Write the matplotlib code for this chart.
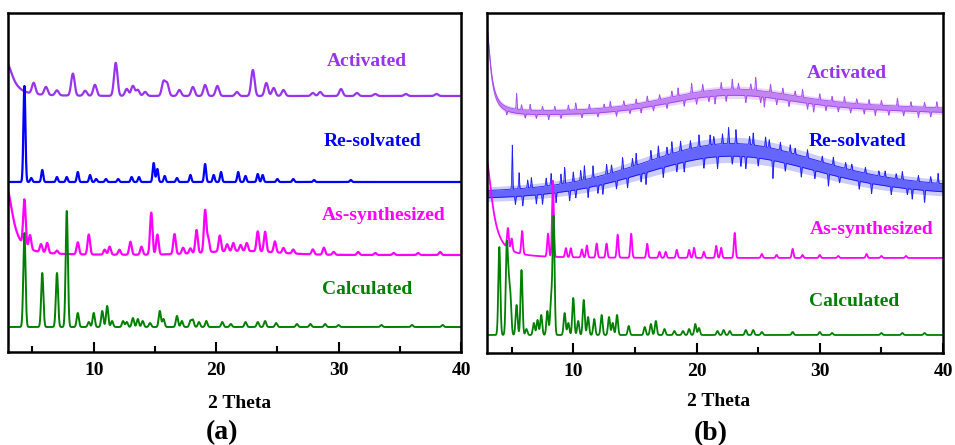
import numpy as np
import matplotlib.pyplot as plt

plt.rcParams['font.family'] = ['Liberation Serif', 'DejaVu Serif']
plt.rcParams['font.weight'] = 'bold'

two_theta = np.arange(3.0, 40.0001, 0.01)

PURPLE = '#9933ee'
BLUE = '#0000ff'
MAGENTA = '#ff00ff'
GREEN = '#008000'

# ---------------- panel (a) ----------------
act_a_pos = [5.1, 6.1, 7.0, 8.3, 9.3, 10.1, 11.8, 12.7, 13.2, 13.6, 14.2, 15.7, 16.0, 17.0, 18.1,
             19.1, 20.1, 21.7, 23.0, 24.1, 24.7, 25.5, 27.9, 28.5, 30.2, 31.5, 33.0, 35.5, 38.0]
act_a_int = [11, 8, 5, 22, 5, 11, 33, 7, 10, 6, 4, 14, 12, 6, 9,
             11, 10, 4, 26, 13, 8, 6, 3, 4, 7, 3, 2, 2, 2]

res_a_pos = [4.34, 4.9, 5.8, 7.0, 7.8, 8.7, 9.7, 10.2, 11.0, 12.0, 13.1, 13.7, 14.9, 15.2, 15.8,
             16.8, 17.9, 19.1, 19.8, 20.4, 21.8, 22.4, 23.4, 23.8, 25.0, 26.3, 28.0, 31.0]
res_a_int = [96, 4, 12, 5, 5, 10, 7, 3, 3, 3, 5, 5, 19, 13, 6,
             4, 7, 18, 7, 10, 10, 6, 8, 7, 3, 3, 2, 2]

as_a_pos = [4.34, 4.8, 5.7, 6.2, 7.0, 8.7, 9.6, 10.9, 11.3, 12.1, 13.0, 13.9, 14.7, 15.2, 16.6,
            17.3, 17.9, 18.4, 19.1, 19.35, 20.3, 20.9, 21.4, 22.0, 22.5, 23.4, 24.0, 24.8, 25.5,
            26.3, 27.9, 28.8, 29.6, 31.6, 33.0, 34.5, 36.5, 38.3]
as_a_int = [46, 14, 8, 10, 3, 12, 20, 5, 8, 5, 13, 8, 42, 20, 20,
            6, 5, 23, 42, 14, 16, 7, 8, 6, 8, 20, 20, 11, 5,
            4, 5, 7, 3, 3, 2, 2, 2, 3]

calc_a_pos = [4.34, 5.8, 7.0, 7.8, 8.7, 9.6, 10.0, 10.7, 11.1, 11.5, 12.4, 12.7, 13.2, 13.6, 14.0,
              14.6, 15.4, 15.7, 16.8, 17.2, 17.9, 18.1, 18.6, 19.2, 20.5, 21.2, 22.4, 23.4, 24.0,
              24.9, 26.6, 27.7, 28.9, 30.0, 33.5, 36.0, 38.5]
calc_a_int = [94, 54, 54, 116, 14, 5, 14, 16, 21, 6, 6, 5, 9, 8, 6,
              4, 16, 8, 11, 6, 6, 7, 5, 6, 5, 3, 5, 5, 6,
              4, 3, 3, 3, 2, 2, 2, 2]

# ---------------- panel (b) ----------------
act_b_spike_pos = [4.6, 5.4, 5.8, 6.1, 6.5, 7.0, 7.5, 8.0, 8.5, 9.0, 9.6, 10.2, 10.7, 11.3, 12.0,
                   12.5, 13.0, 13.5, 14.1, 14.6, 15.1, 15.5, 16.0, 16.5, 17.0, 17.6, 18.0, 18.5,
                   19.0, 19.6, 20.0, 20.5, 21.0, 21.5, 22.0, 22.4, 22.9, 23.4, 24.0, 24.4, 24.8,
                   25.2, 25.5, 26.0, 26.5, 27.0, 27.5, 28.0, 28.6, 29.0, 29.5, 30.0, 30.5, 31.0,
                   31.5, 32.0, 32.5, 33.0, 33.6, 34.0, 34.5, 35.0, 35.6, 36.3, 36.8, 37.4, 38.0,
                   38.5, 39.0, 39.5]
act_b_spike_int = [-4, 16, 5, -4, 6, -4, 4, -5, 4, -4, 5, 7, -4, 5, -4,
                   4, 6, -5, 5, -4, 5, -5, 6, -5, 5, -5, 6, 8,
                   -6, 10, -6, 7, -5, -8, 7, -6, 10, 6, -7, 6, 13,
                   -6, -10, 8, -6, 6, -6, 5, 8, -6, -8, 6, -5, 5,
                   -5, 6, -5, 5, -5, 5, -6, 5, -5, 8, -5, 5, -6,
                   5, -5, 6]
act_b_hump_pos = [22.5, 29.0]
act_b_hump_int = [16, 7]
act_b_hump_sig = [4.8, 10.0]

res_b_spike_pos = [5.05, 5.3, 5.6, 5.9, 6.3, 6.6, 7.0, 7.5, 7.8, 8.2, 8.6, 9.0, 9.3, 9.7, 10.0,
                   10.2, 10.6, 10.9, 11.2, 11.6, 12.0, 12.4, 12.7, 13.1, 13.5, 14.0, 14.4, 14.8,
                   15.1, 15.5, 15.9, 16.3, 16.9, 17.3, 17.6, 18.0, 18.4, 18.7, 19.0, 19.5, 20.2,
                   20.6, 21.1, 21.4, 21.7, 22.1, 22.6, 22.9, 23.2, 23.6, 24.0, 24.3, 24.6, 25.0,
                   25.6, 25.9, 26.2, 26.8, 27.2, 27.6, 28.0, 28.5, 29.0, 29.6, 30.2, 30.7, 31.1,
                   31.6, 32.1, 32.6, 33.2, 33.7, 34.2, 34.8, 35.3, 35.8, 36.2, 36.7, 37.1, 37.5,
                   38.0, 38.5, 39.0, 39.6]
res_b_spike_int = [44, -8, 16, -10, 8, 10, -9, -10, 8, 12, -10, 10, 16, -10, 10,
                   -8, 10, 14, -10, 12, -8, -10, 10, 8, -8, 12, -10, 8,
                   12, -8, -12, 10, 12, -10, 8, 12, -8, 10, -10, 8, 12,
                   -10, 10, 8, -12, 10, 16, -8, 14, -10, -12, 8, 12, -8,
                   10, 8, -18, 8, -8, 8, 6, -10, 8, -8, 6, -12, 8,
                   -6, 6, 6, -8, 6, -10, 5, 6, -8, 5, 8, -6, -10,
                   6, -12, 6, 10]
res_b_hump_pos = [22.5, 28.0]
res_b_hump_int = [36, 12]
res_b_hump_sig = [6.5, 14.0]

as_b_pos = [4.7, 5.0, 5.85, 7.95, 8.35, 9.4, 9.8, 10.7, 11.1, 11.9, 12.7, 13.6, 14.7, 16.0, 17.0,
            17.5, 18.4, 19.4, 19.8, 20.6, 21.6, 22.0, 23.1, 25.3, 26.5, 27.8, 28.6, 30.0, 31.5,
            33.8, 35.0, 37.0]
as_b_int = [20, 12, 23, 23, 76, 9, 9, 8, 12, 14, 14, 23, 24, 14, 6,
            6, 8, 8, 10, 6, 12, 10, 25, 4, 3, 9, 3, 3, 2,
            4, 2, 2]

calc_b_pos = [4.0, 4.6, 4.75, 4.9, 5.4, 5.8, 6.2, 6.8, 7.1, 7.4, 7.9, 8.2, 8.4, 9.3, 9.6, 10.0,
              10.4, 10.85, 11.2, 11.7, 12.3, 12.9, 13.2, 13.55, 14.5, 15.8, 16.3, 16.7, 17.4,
              18.2, 18.9, 19.4, 19.9, 20.2, 21.7, 22.2, 22.7, 24.0, 24.6, 25.3, 27.8, 30.0,
              31.0, 35.0, 36.7, 38.5]
calc_b_int = [88, 85, 45, 35, 30, 65, 6, 12, 15, 20, 24, 35, 118, 22, 12, 37,
              14, 35, 18, 16, 20, 18, 12, 20, 9, 8, 11, 14, 6,
              4, 4, 6, 11, 7, 4, 5, 4, 5, 5, 3, 3, 3,
              2, 2, 2, 2]


def peaks(pos, inten, sigma):
    y = np.zeros_like(two_theta)
    for p, h in zip(pos, inten):
        y += h * np.exp(-0.5 * ((two_theta - p) / sigma) ** 2)
    return y


def humps(pos, inten, sigmas):
    y = np.zeros_like(two_theta)
    for p, h, s in zip(pos, inten, sigmas):
        y += h * np.exp(-0.5 * ((two_theta - p) / s) ** 2)
    return y


def low_angle(height, hwhm, center=2.9):
    # direct beam tail at small angles
    return height / (1 + ((two_theta - center) / hwhm) ** 2)


def noisy_scan(ax, base, amp, spikes, color):
    # amorphous scan: faint outer band, core band, spikes sticking out of the core
    ax.fill_between(two_theta, base - amp, base + amp, color=color, alpha=0.2, lw=0)
    core = 0.5 * amp
    upper = base + core + np.clip(spikes, 0, None)
    lower = base - core + np.clip(spikes, None, 0)
    ax.fill_between(two_theta, lower, upper, color=color, alpha=0.5, lw=0)
    ax.plot(two_theta, upper, color=color, lw=0.6, alpha=0.85)
    ax.plot(two_theta, lower, color=color, lw=0.6, alpha=0.85)


def style_axes(ax, ymax):
    ax.set_xlim(3, 40)
    ax.set_ylim(0, ymax)
    ax.set_yticks([])
    ax.set_xticks([10, 20, 30, 40])
    ax.set_xticks([5, 15, 25, 35], minor=True)
    ax.tick_params(axis='x', which='major', direction='in', length=7, width=1.5,
                   labelsize=14, pad=7)
    ax.tick_params(axis='x', which='minor', direction='in', length=4, width=1.5)
    for sp in ax.spines.values():
        sp.set_linewidth(1.8)


def label(ax, x, y, text, color):
    ax.text(x, y, text, color=color, fontsize=14, fontweight='bold', ha='center', va='center')


fig = plt.figure(figsize=(9.55, 4.45), dpi=100)
ax_a = fig.add_axes([8 / 955, 1 - 352 / 445, 453 / 955, 339 / 445])
ax_b = fig.add_axes([487 / 955, 1 - 353 / 445, 456 / 955, 340 / 445])

# (a)
act_a = 256 + low_angle(32.5, 0.6) + peaks(act_a_pos, act_a_int, 0.14)
res_a = 170 + peaks(res_a_pos, res_a_int, 0.08)
as_a = 97 + low_angle(66, 0.6) + humps([22.0], [4], [3.0]) + peaks(as_a_pos, as_a_int, 0.1)
calc_a = 25 + peaks(calc_a_pos, calc_a_int, 0.09)

ax_a.plot(two_theta, act_a, color=PURPLE, lw=1.6)
ax_a.plot(two_theta, res_a, color=BLUE, lw=1.6)
ax_a.plot(two_theta, as_a, color=MAGENTA, lw=1.6)
ax_a.plot(two_theta, calc_a, color=GREEN, lw=1.4)
style_axes(ax_a, 339)
label(ax_a, 32.3, 291, 'Activated', PURPLE)
label(ax_a, 32.8, 211, 'Re-solvated', BLUE)
label(ax_a, 33.7, 136, 'As-synthesized', MAGENTA)
label(ax_a, 32.3, 63, 'Calculated', GREEN)

# (b)
act_b_hump = humps(act_b_hump_pos, act_b_hump_int, act_b_hump_sig)
act_b_base = 239 + low_angle(92, 0.4) + act_b_hump
act_b_spikes = peaks(act_b_spike_pos, act_b_spike_int, 0.035)
res_b_hump = humps(res_b_hump_pos, res_b_hump_int, res_b_hump_sig)
res_b_base = 156 + res_b_hump
res_b_spikes = peaks(res_b_spike_pos, res_b_spike_int, 0.035)
as_b = 95 + low_angle(100, 0.6) + peaks(as_b_pos, as_b_int, 0.07)
calc_b = 18 + peaks(calc_b_pos, calc_b_int, 0.08)

noisy_scan(ax_b, act_b_base, 4 + 0.1 * act_b_hump, act_b_spikes, PURPLE)
noisy_scan(ax_b, res_b_base, 7 + 0.12 * res_b_hump, res_b_spikes, BLUE)
ax_b.plot(two_theta, as_b, color=MAGENTA, lw=1.3)
ax_b.plot(two_theta, calc_b, color=GREEN, lw=1.3)
style_axes(ax_b, 340)
label(ax_b, 32.2, 280, 'Activated', PURPLE)
label(ax_b, 33.1, 211, 'Re-solvated', BLUE)
label(ax_b, 34.2, 123, 'As-synthesized', MAGENTA)
label(ax_b, 32.8, 52, 'Calculated', GREEN)

fig.text(240 / 955, 1 - 403 / 445, '2 Theta', fontsize=14, fontweight='bold', ha='center', va='center')
fig.text(222 / 955, 1 - 433 / 445, '(a)', fontsize=20, fontweight='bold', ha='center', va='center')
fig.text(719 / 955, 1 - 402 / 445, '2 Theta', fontsize=14, fontweight='bold', ha='center', va='center')
fig.text(711 / 955, 1 - 434 / 445, '(b)', fontsize=20, fontweight='bold', ha='center', va='center')

fig.savefig('out.png', dpi=100)
